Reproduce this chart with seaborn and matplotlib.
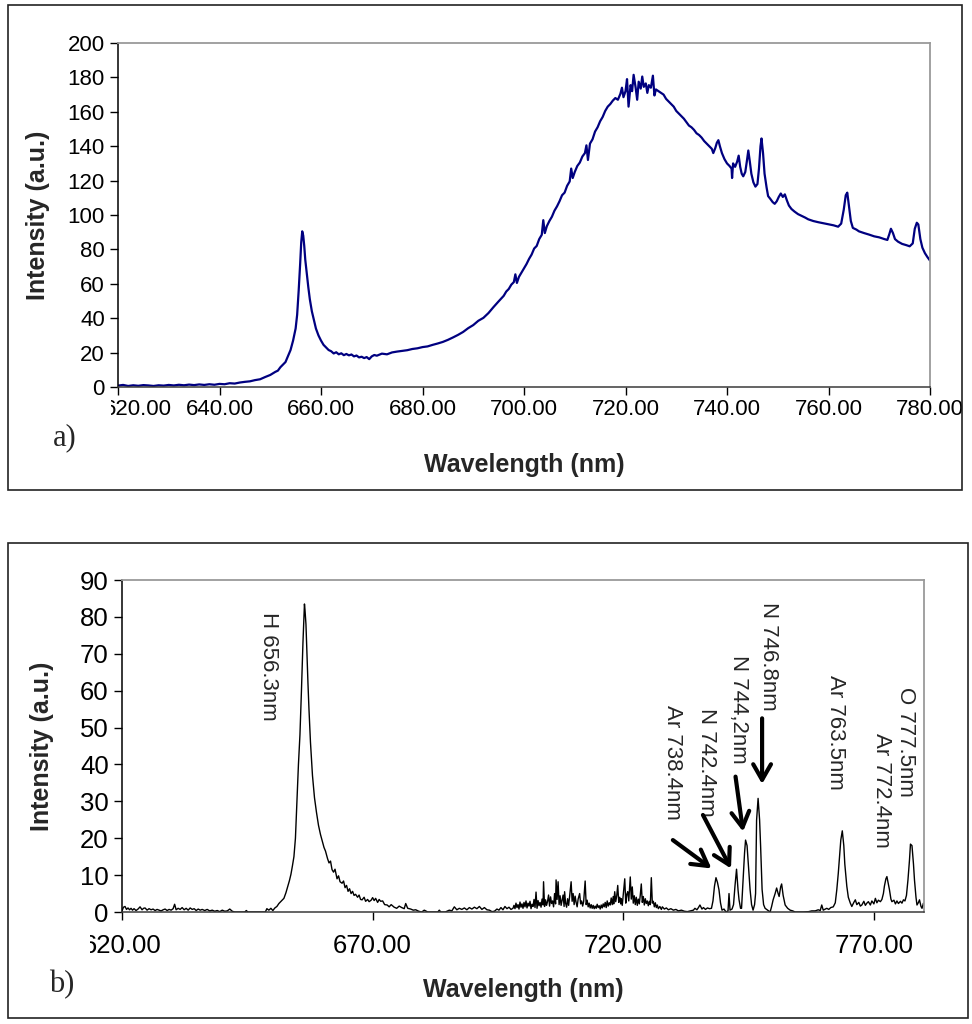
import numpy as np
import pandas as pd
import matplotlib
matplotlib.use("Agg")
import matplotlib.pyplot as plt
from matplotlib.patches import Rectangle
from matplotlib.transforms import ScaledTranslation
import seaborn as sns

# ---- a) raw emission spectrum ------------------------------------------
wl_a = [620.0, 621, 622, 623, 624, 625, 626, 627, 628, 629, 630, 631, 632, 633, 634, 635, 636,
        637, 638, 639, 640, 641, 642, 643, 644, 645, 646, 647, 648, 649, 650, 651, 651.5, 652,
        652.5, 653, 653.5, 654, 654.5, 655, 655.3, 655.6, 655.9, 656.1, 656.3, 656.5, 656.7,
        656.9, 657.2, 657.5, 657.8, 658.2, 658.6, 659, 659.5, 660, 660.5, 661, 661.5, 662,
        662.5, 663, 663.5, 664, 664.5, 665, 665.5, 666, 666.5, 667, 667.5, 668, 668.5, 669,
        669.5, 670, 670.5, 671, 672, 673, 674, 675, 676, 677, 678, 679, 680, 681, 682, 683,
        684, 685, 686, 687, 688, 689, 690, 691, 692, 693, 694, 695, 696, 696.5, 697, 697.5,
        698, 698.3, 698.6, 699, 699.5, 700, 700.5, 701, 701.5, 702, 702.5, 703, 703.5, 703.8,
        704.1, 704.5, 705, 705.5, 706, 706.5, 707, 707.5, 708, 708.5, 709, 709.3, 709.6, 710,
        710.5, 711, 711.5, 712, 712.3, 712.6, 713, 713.5, 714, 714.5, 715, 715.5, 716, 716.5,
        717, 717.5, 718, 718.5, 719, 719.3, 719.6, 720, 720.3, 720.6, 721, 721.3, 721.6, 722,
        722.3, 722.6, 723, 723.3, 723.6, 724, 724.3, 724.6, 725, 725.4, 725.7, 726, 726.5, 727,
        727.5, 728, 728.5, 729, 729.5, 730, 730.5, 731, 731.5, 732, 732.5, 733, 733.5, 734,
        734.5, 735, 735.5, 736, 736.5, 737, 737.3, 737.7, 738.0, 738.3, 738.6, 739.0, 739.5,
        740, 740.5, 740.9, 741.0, 741.2, 741.6, 742.0, 742.3, 742.6, 742.9, 743.2, 743.6,
        743.9, 744.2, 744.5, 744.8, 745.2, 745.6, 746.0, 746.3, 746.6, 746.8, 747.1, 747.4,
        747.8, 748.1, 748.5, 749.0, 749.4, 749.8, 750.2, 750.6, 751.0, 751.4, 751.8, 752.2,
        752.7, 753.3, 754, 754.7, 755.4, 756, 757, 758, 759, 760, 761, 761.9, 762.5, 763,
        763.4, 763.7, 764.0, 764.4, 764.8, 765.5, 766, 767, 768, 769, 770, 771, 771.6, 772.0,
        772.3, 772.7, 773.1, 773.7, 774.5, 775.3, 776.0, 776.6, 777.0, 777.4, 777.7, 778.1,
        778.5, 779.0, 779.5, 780.0]
int_a = [0.8, 1.2, 0.6, 1.0, 0.7, 1.1, 0.9, 0.6, 1.0, 0.8, 1.2, 0.9, 1.3, 1.0, 1.4, 1.1, 1.5,
         1.2, 1.6, 1.3, 1.8, 1.6, 2.2, 2.0, 2.6, 3.0, 3.3, 4.0, 4.5, 5.8, 7.0, 8.8, 9.5, 11.5,
         13.0, 14.5, 18, 21.5, 27, 34, 42, 56, 72, 84, 90.5, 88, 82,
         74, 66, 58, 51, 44, 39, 34, 30, 27, 24.5, 23, 21.5, 20.8,
         19.5, 20.2, 19.0, 19.6, 18.5, 19.2, 18.4, 18.9, 17.8, 18.3, 17.2, 17.6, 16.8, 17.4,
         16.2, 17.8, 18.6, 18.2, 19.4, 19.0, 20.1, 20.6, 21.0, 21.4, 22.1, 22.5, 23.2, 23.6, 24.5, 25.3,
         26.2, 27.4, 28.8, 30.3, 32.0, 34.2, 36.0, 38.5, 40.2, 43.0, 46.5, 49.8, 53.0, 55.5, 57.0, 59.5,
         61.0, 65.5, 60.5, 64.0, 66.5, 69.0, 71.5, 74.5, 77.0, 80.5, 82.0, 86.0, 88.5, 97.0,
         89.5, 93.5, 96.5, 99.0, 102.5, 105.0, 108.0, 111.5, 113.0, 117.0, 119.5, 127.0, 121.5, 125.0,
         128.5, 130.5, 134.0, 136.0, 140.5, 132.0, 141.5, 144.0, 148.5, 151.0, 154.5, 157.0, 160.5, 163.0,
         164.5, 166.5, 168.0, 167.0, 170.5, 174.0, 168.5, 172.0, 179.0, 163.0, 175.5, 172.0, 181.5, 174.0,
         167.0, 177.5, 173.5, 180.5, 174.5, 176.5, 171.0, 175.5, 174.0, 181.0, 169.5, 173.0, 172.0, 171.0,
         170.0, 167.5, 166.0, 164.5, 163.0, 160.5, 159.0, 157.5, 156.0, 154.0, 152.0, 151.0, 149.5, 147.5,
         146.5, 145.0, 143.0, 141.5, 140.0, 138.5, 136.0, 139.0, 142.0, 143.5, 140.0, 136.0, 132.5,
         130.0, 128.5, 127.0, 121.5, 130.0, 128.0, 131.0, 134.5, 128.0, 124.0, 122.5, 125.0,
         131.0, 137.5, 131.0, 124.0, 119.0, 116.5, 118.0, 127.0, 140.0, 144.5, 136.0, 124.0,
         116.0, 111.0, 109.5, 107.5, 106.5, 108.0, 110.5, 112.5, 110.5, 112.0, 108.5, 105.5,
         103.5, 102.0, 100.5, 99.5, 98.5, 97.5, 96.5, 95.8, 95.2, 94.6, 94.0, 93.2, 95.0, 103.0,
         111.5, 113.0, 106.0, 96.5, 92.5, 91.5, 90.5, 89.5, 88.6, 87.6, 87.0, 86.0, 85.5, 89.0,
         92.0, 89.5, 86.0, 84.5, 83.2, 82.5, 81.8, 83.5, 92.0, 95.5, 94.5, 86.0,
         81.0, 77.8, 75.5, 73.5]

# ---- b) background-subtracted spectrum, in three stretches ---------------
# 620 - 697.6 nm: flat baseline and the H-alpha line
wl_b1 = [620.0, 620.3, 620.6, 620.9, 621.2, 621.5, 621.8, 622.1, 622.4, 622.8, 623.2, 623.6, 624.0,
         624.3, 624.6, 625.0, 625.4, 625.8, 626.2, 626.6, 627.0, 627.4, 627.8, 628.2, 628.6, 629.0,
         629.4, 629.8, 630.2, 630.5, 630.8, 631.2, 631.6, 632.0, 632.4, 632.8, 633.2, 633.6, 634.0,
         634.4, 634.8, 635.2, 635.6, 636.0, 636.5, 637.0, 637.5, 638.0, 638.5, 639.0, 639.5, 640.0,
         640.5, 641.0, 641.5, 642.0, 642.5, 643.5, 644.5, 644.8, 645.1, 646.0, 647.0, 648.0, 648.6,
         648.9, 649.3, 649.7, 650.1, 650.5, 650.9, 651.3, 651.8, 652.3, 652.7, 653.0, 653.4, 653.7,
         654.0, 654.3, 654.6, 654.9, 655.2, 655.5, 655.8, 656.1, 656.3, 656.4, 656.5, 656.7, 656.9,
         657.1, 657.3, 657.6, 658.0, 658.4, 658.8, 659.2, 659.6, 660.0, 660.3, 660.6, 661.0, 661.3,
         661.6, 661.9, 662.2, 662.5, 662.9, 663.2, 663.5, 663.9, 664.2, 664.5, 664.8, 665.1, 665.4,
         665.7, 666.0, 666.3, 666.6, 667.0, 667.3, 667.6, 667.9, 668.3, 668.6, 669.0, 669.3, 669.7,
         670.0, 670.3, 670.6, 671.0, 671.3, 671.6, 672.0, 672.4, 672.9, 673.3, 673.7, 674.3, 674.8,
         675.3, 675.8, 676.3, 676.6, 677.0, 677.6, 678.1, 678.6, 679.2, 679.8, 680.3, 681.0, 682.0,
         683.0, 683.3, 683.6, 684.5, 685.3, 685.8, 686.3, 686.8, 687.3, 687.8, 688.3, 688.8, 689.3,
         689.8, 690.3, 690.8, 691.3, 691.8, 692.3, 692.8, 693.3, 693.8, 694.3, 694.8, 695.2, 695.6,
         696.0, 696.4, 696.8, 697.2, 697.6]
int_b1 = [0.3, 1.3, 1.5, 0.7, 1.1, 0.6, 1.0, 0.5, 0.9, 0.4, 0.8, 1.4, 0.6,
          1.0, 1.1, 0.5, 0.9, 0.6, 0.8, 0.4, 0.7, 0.5, 0.3, 0.6, 0.8, 0.4,
          0.7, 0.5, 0.9, 2.1, 0.6, 1.0, 0.7, 1.2, 0.6, 1.0, 0.5, 1.1, 0.7,
          0.9, 0.4, 0.8, 0.5, 0.7, 0.4, 0.7, 0.3, 0.5, 0.2, 0.4, 0.1, 0.5,
          0.2, 0.3, 0.8, 0.2, 0.0, 0.0, 0.0, 0.4, 0.0, 0.0, 0.0, 0.0, 0.0,
          0.9, 0.5, 1.0, 0.4, 1.1, 1.5, 2.3, 3.0, 3.7, 5.2, 6.6, 8.5, 10.2,
          12.5, 15.0, 20.0, 30.0, 40.0, 48.0, 60.0, 73.0, 80.0, 83.5, 82.0, 78.0, 70.0,
          62.0, 55.0, 46.0, 37.0, 31.0, 27.0, 23.5, 21.0, 19.0, 17.5, 16.5, 14.5, 13.3,
          13.8, 11.5, 10.8, 11.6, 9.0, 9.8, 8.2, 7.8, 8.4, 6.6, 7.2, 5.6, 6.3,
          5.0, 5.6, 4.5, 4.8, 4.0, 4.6, 3.4, 3.3, 4.0, 2.9, 3.4, 2.8, 3.2,
          3.9, 3.1, 3.7, 2.6, 3.4, 2.9, 3.0, 2.0, 1.9, 1.4, 2.0, 1.3, 1.0,
          1.6, 1.2, 0.9, 2.3, 1.0, 0.8, 0.5, 0.6, 0.2, 0.0, 0.5, 0.0, 0.0,
          0.0, 0.5, 0.0, 0.0, 0.5, 0.3, 1.4, 0.6, 1.0, 0.7, 1.1, 0.6, 1.2,
          0.8, 1.3, 0.9, 1.5, 0.7, 1.2, 0.6, 0.5, 0.1, 0.2, 0.8, 0.5, 1.2,
          0.6, 1.5, 0.9, 1.3, 0.7]

# 698 - 727.6 nm: dense spiky band
wl_b2 = [698.0, 698.2, 698.4, 698.6, 698.8, 699.0, 699.2, 699.4, 699.6, 699.8,
         700.0, 700.2, 700.4, 700.6, 700.8, 701.0, 701.2, 701.4, 701.6, 701.8,
         702.0, 702.2, 702.4, 702.6, 702.8, 703.0, 703.2, 703.4, 703.6, 703.8,
         704.0, 704.1, 704.3, 704.5, 704.7, 704.9, 705.1, 705.3, 705.5, 705.7,
         705.9, 706.1, 706.3, 706.5, 706.6, 706.8, 707.0, 707.2, 707.4, 707.6,
         707.8, 708.0, 708.2, 708.3, 708.5, 708.7, 708.9, 709.1, 709.3, 709.6,
         709.8, 710.0, 710.2, 710.4, 710.6, 710.8, 711.0, 711.3, 711.5, 711.7,
         711.9, 712.1, 712.4, 712.6, 712.8, 713.0, 713.2, 713.4, 713.6, 713.8,
         714.0, 714.2, 714.4, 714.6, 714.8, 715.0, 715.2, 715.4, 715.6, 715.8,
         716.0, 716.2, 716.4, 716.6, 716.8, 717.0, 717.2, 717.4, 717.6, 717.8,
         718.0, 718.1, 718.3, 718.5, 718.7, 718.9, 719.1, 719.3, 719.5, 719.6,
         719.8, 720.0, 720.3, 720.5, 720.7, 720.9, 721.1, 721.4, 721.6, 721.8,
         722.0, 722.2, 722.4, 722.6, 722.8, 723.0, 723.2, 723.4, 723.6, 723.8,
         724.0, 724.2, 724.4, 724.6, 724.8, 725.0, 725.2, 725.4, 725.6, 725.8,
         726.0, 726.2, 726.4, 726.6, 726.8, 727.0, 727.3, 727.6]
int_b2 = [1.0, 1.8, 0.9, 2.4, 1.2, 2.0, 0.8, 2.7, 1.3, 2.2,
          1.0, 2.6, 1.4, 3.0, 1.1, 2.4, 1.6, 2.9, 0.9, 2.1,
          1.5, 3.4, 1.2, 5.4, 1.0, 3.1, 1.7, 2.6, 1.3, 3.5,
          1.9, 8.2, 1.5, 3.3, 1.8, 2.9, 4.6, 1.6, 4.1, 2.3,
          3.0, 1.4, 5.0, 2.2, 8.7, 3.4, 8.2, 2.0, 4.4, 1.8,
          3.2, 4.6, 1.5, 5.5, 2.4, 1.3, 3.6, 1.8, 4.2, 8.2,
          2.9, 5.0, 2.0, 4.3, 2.6, 1.4, 3.5, 5.0, 2.2, 3.0,
          1.6, 2.8, 8.4, 2.0, 3.2, 1.4, 2.4, 1.1, 2.0, 1.0,
          1.8, 0.9, 1.6, 1.0, 2.1, 1.2, 1.7, 0.8, 1.9, 1.1,
          2.2, 1.4, 2.6, 1.2, 3.0, 1.6, 2.5, 1.9, 3.8, 2.0,
          4.2, 2.2, 5.5, 2.8, 4.4, 7.2, 2.6, 4.0, 2.2, 3.6,
          1.8, 4.6, 9.0, 2.4, 4.8, 5.5, 3.0, 9.5, 3.5, 6.8,
          2.4, 4.4, 2.0, 4.0, 1.8, 3.5, 2.2, 4.6, 7.6, 2.6,
          4.2, 1.9, 3.6, 2.3, 3.0, 1.7, 2.9, 2.0, 9.3, 2.4,
          2.9, 1.4, 2.5, 1.2, 1.9, 0.9, 1.5, 0.7]

# 727.8 - 780 nm: N, Ar and O lines
wl_b3 = [727.8, 728.2, 728.6, 729.0, 729.5, 730.0, 730.5, 731.0, 731.6, 732.2, 732.8,
         733.4, 734.0, 734.3, 734.7, 735.0, 735.3, 735.7, 736.0, 736.4, 736.8, 737.2, 737.6, 737.9,
         738.2, 738.5, 738.8, 739.1, 739.4, 739.7, 740.1, 740.5, 740.9, 741.1, 741.3, 741.7, 742.0,
         742.3, 742.6, 742.9, 743.1, 743.4, 743.6, 743.9, 744.2, 744.4, 744.7, 745.0, 745.3, 745.6,
         745.9, 746.2, 746.4, 746.6, 746.9, 747.2, 747.4, 747.7, 748.0, 748.3, 748.8, 749.3, 749.6,
         749.9, 750.3, 750.6, 750.9, 751.1, 751.4, 751.6, 751.9, 752.3, 752.8, 753.3, 753.8, 754.3,
         755.0, 756.0, 757.0, 757.6, 758.3, 758.9, 759.3, 759.6, 759.9, 760.3, 760.6, 761.0, 761.4,
         761.9, 762.3, 762.6, 762.9, 763.2, 763.4, 763.7, 764.0, 764.2, 764.6, 764.9, 765.3, 765.6,
         766.0, 766.3, 766.6, 767.0, 767.3, 767.6, 768.0, 768.3, 768.6, 768.9, 769.3, 769.6, 770.0,
         770.3, 770.6, 770.9, 771.3, 771.6, 771.9, 772.1, 772.4, 772.6, 772.9, 773.1, 773.4, 773.6,
         774.0, 774.3, 774.6, 774.9, 775.3, 775.6, 775.9, 776.2, 776.5, 776.8, 777.1, 777.3, 777.6,
         777.9, 778.1, 778.4, 778.6, 778.9, 779.1, 779.4, 779.6, 779.9, 780.0]
int_b3 = [1.4, 0.8, 1.1, 0.6, 0.9, 0.5, 0.7, 0.3, 0.5, 0.2, 0.1,
          0.3, 0.5, 1.0, 0.6, 1.2, 1.9, 0.8, 1.2, 0.7, 1.1, 0.9, 1.0, 3.0,
          7.0, 9.3, 8.0, 6.0, 2.5, 0.5, 0.8, 0.0, 0.3, 5.0, 0.5, 0.8, 2.0,
          7.2, 11.6, 6.0, 3.3, 1.0, 1.0, 8.7, 16.0, 19.5, 18.0, 12.0, 6.1, 2.0,
          0.5, 2.0, 5.0, 24.9, 30.8, 25.0, 18.0, 6.1, 2.0, 1.0, 0.5, 0.0, 1.5,
          3.3, 5.0, 6.5, 5.0, 4.2, 6.8, 7.6, 4.5, 1.9, 1.0, 0.5, 0.3, 0.0,
          0.0, 0.0, 0.1, 0.3, 0.3, 0.6, 0.4, 1.9, 0.5, 0.8, 1.0, 0.7, 1.2,
          1.4, 2.5, 6.0, 10.5, 16.0, 19.5, 22.0, 18.0, 13.0, 7.0, 4.0, 2.4, 1.5,
          2.6, 3.3, 2.0, 2.6, 1.6, 1.9, 2.9, 1.8, 2.4, 2.8, 1.9, 3.0, 2.2,
          3.7, 2.5, 3.2, 2.8, 3.4, 5.0, 7.0, 9.0, 9.6, 7.5, 6.1, 3.5, 2.8,
          3.2, 2.2, 3.0, 2.3, 2.9, 2.4, 3.3, 3.0, 4.5, 8.7, 14.0, 18.4, 18.0,
          13.0, 8.7, 4.0, 1.9, 2.6, 3.3, 1.5, 1.0, 2.4, 1.8]

# ---- emission line labels and arrows (panel b) ---------------------------
line_labels = ["H 656.3nm", "Ar 738.4nm", "N 742.4nm", "N 744,2nm",
               "N 746.8nm", "Ar 763.5nm", "Ar 772.4nm", "O 777.5nm"]
label_x = [649.3, 729.9, 736.6, 742.9, 748.9, 762.3, 771.6, 776.3]
label_top = [81.4, 56.1, 55.2, 69.7, 84.1, 64.2, 48.4, 61.1]

arrow_tail = [(729.9, 19.5), (735.9, 26.3), (742.4, 36.7), (747.7, 52.5)]
arrow_head = [(737.6, 11.8), (741.5, 11.8), (743.9, 21.8), (747.7, 34.7)]

ticks_a = [620, 640, 660, 680, 700, 720, 740, 760, 780]
ticks_b = [620, 670, 720, 770]

sns.set_style("white")
plt.rcParams["font.family"] = ["Liberation Sans", "DejaVu Sans"]

W, H = 972, 1024
fig = plt.figure(figsize=(W / 100, H / 100), dpi=100)


def frac_axes(left, top, right, bottom):
    return fig.add_axes([left / W, 1 - bottom / H, (right - left) / W, (bottom - top) / H])


def style_axes(ax, tick_size, xpad):
    for side in ("top", "right"):
        ax.spines[side].set_color("#9a9a9a")
        ax.spines[side].set_linewidth(1.3)
    ax.spines["left"].set_color("black")
    ax.spines["bottom"].set_color("#3a3a3a")
    for side in ("left", "bottom"):
        ax.spines[side].set_linewidth(1.1)
    ax.tick_params(axis="both", which="major", direction="out", length=5.5, width=1.0,
                   labelsize=tick_size, colors="black", bottom=True, left=True)
    ax.tick_params(axis="y", pad=4)
    ax.tick_params(axis="x", pad=xpad)
    ax.grid(False)


# frames around each panel
fig.patches.append(Rectangle((8 / W, 1 - 490 / H), 954 / W, 485 / H, transform=fig.transFigure,
                             fill=False, edgecolor="#222222", linewidth=1.2, zorder=0))
fig.patches.append(Rectangle((8 / W, 1 - 1018 / H), 960 / W, 475 / H, transform=fig.transFigure,
                             fill=False, edgecolor="#222222", linewidth=1.2, zorder=0))

# ---- panel a ----
ax1 = frac_axes(118, 43, 930, 387)
df_a = pd.DataFrame({"wavelength": wl_a, "intensity": int_a})
sns.lineplot(data=df_a, x="wavelength", y="intensity", ax=ax1, color="#000080",
             linewidth=1.6, estimator=None, sort=False)
ax1.set_xlim(620, 780)
ax1.set_ylim(0, 200)
ax1.set_xticks(ticks_a)
ax1.set_xticklabels([f"{t:.2f}" for t in ticks_a])
ax1.set_yticks(range(0, 201, 20))
style_axes(ax1, 16, 3)
ax1.set_xlabel("Wavelength (nm)", fontsize=18, fontweight="bold")
ax1.set_ylabel("Intensity (a.u.)", fontsize=18, fontweight="bold")
ax1.xaxis.set_label_coords(0.5, (387 - 465) / 344)
ax1.xaxis.label.set_va("center")
ax1.yaxis.set_label_coords((38 - 118) / 812, 0.5)
ax1.yaxis.label.set_va("center")
# the first wavelength label sits a little to the right of its tick
first = ax1.xaxis.get_major_ticks()[0].label1
first.set_transform(first.get_transform() + ScaledTranslation(0.2, 0, fig.dpi_scale_trans))

# ---- panel b ----
ax2 = frac_axes(122, 580, 924, 912)
df_b = pd.DataFrame({"wavelength": wl_b1 + wl_b2 + wl_b3,
                     "intensity": int_b1 + int_b2 + int_b3})
sns.lineplot(data=df_b, x="wavelength", y="intensity", ax=ax2, color="black",
             linewidth=1.0, estimator=None, sort=False)
ax2.set_xlim(620, 780)
ax2.set_ylim(0, 90)
ax2.set_xticks(ticks_b)
ax2.set_xticklabels([f"{t:.2f}" for t in ticks_b])
ax2.set_yticks(range(0, 91, 10))
style_axes(ax2, 18.5, 10)
ax2.set_xlabel("Wavelength (nm)", fontsize=18, fontweight="bold")
ax2.set_ylabel("Intensity (a.u.)", fontsize=18, fontweight="bold")
ax2.xaxis.set_label_coords(0.5, (912 - 990) / 332)
ax2.xaxis.label.set_va("center")
ax2.yaxis.set_label_coords((42 - 122) / 802, 0.5)
ax2.yaxis.label.set_va("center")

for txt, x, top in zip(line_labels, label_x, label_top):
    ax2.text(x, top, txt, rotation=-90, ha="center", va="top", fontsize=16)

for tail, head in zip(arrow_tail, arrow_head):
    ax2.annotate("", xy=head, xytext=tail,
                 arrowprops=dict(arrowstyle="->,head_length=0.7,head_width=0.4",
                                 lw=3.0, color="black", shrinkA=0, shrinkB=0,
                                 mutation_scale=16))

# white label boxes for the panel letters; they overlap the first tick label
fig.patches.append(Rectangle((15 / W, 1 - 462 / H), (111 - 15) / W, (462 - 398) / H,
                             transform=fig.transFigure, facecolor="white",
                             edgecolor="none", zorder=2))
fig.patches.append(Rectangle((15 / W, 1 - 1012 / H), (90 - 15) / W, (1012 - 922) / H,
                             transform=fig.transFigure, facecolor="white",
                             edgecolor="none", zorder=2))
serif = ["Liberation Serif", "DejaVu Serif"]
fig.text(65 / W, 1 - 438 / H, "a)", fontsize=22, family=serif, ha="center", va="center",
         zorder=3)
fig.text(62 / W, 1 - 985 / H, "b)", fontsize=22, family=serif, ha="center", va="center",
         zorder=3)

fig.savefig("out.png", dpi=100, facecolor="white")
